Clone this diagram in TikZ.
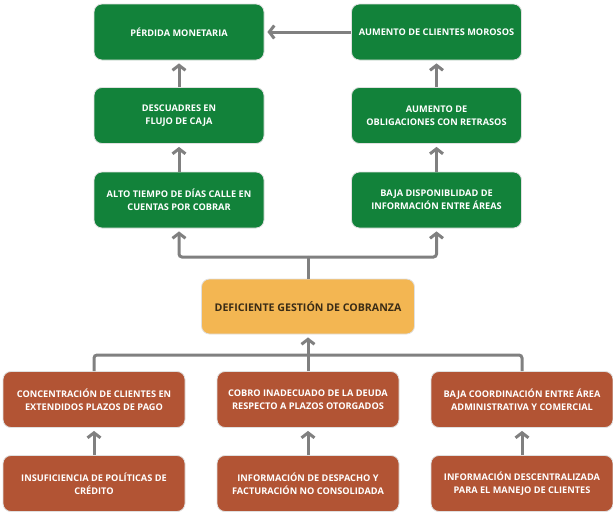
\documentclass[tikz,border=0pt]{standalone}
\usepackage{fontspec}
\setmainfont{Open Sans}
\usetikzlibrary{arrows.meta}
\definecolor{effgreen}{RGB}{18,130,58}
\definecolor{causebrown}{RGB}{178,84,52}
\definecolor{probyellow}{RGB}{243,182,82}
\definecolor{probtext}{RGB}{58,44,22}
\definecolor{linkgray}{RGB}{128,128,128}
\begin{document}
\begin{tikzpicture}[x=1pt,y=-1pt,
  box/.style={rounded corners=8pt, minimum height=56pt, align=center,
    draw=black!12, line width=0.8pt,
    font=\fontsize{9.2}{13.4}\selectfont\bfseries, inner sep=0pt},
  effect/.style={box, fill=effgreen, text=white, minimum width=170pt},
  cause/.style={box, fill=causebrown, text=white, minimum width=182pt},
  problem/.style={box, fill=probyellow, text=probtext, minimum width=213pt, minimum height=55pt,
    font=\fontsize{10.6}{13}\selectfont\bfseries},
  link/.style={draw=linkgray, line width=3pt, shorten >=3pt,
    -{Straight Barb[length=5pt,width=13pt,line width=3pt]}},
  plain/.style={draw=linkgray, line width=3pt, rounded corners=3pt}]
\useasboundingbox (0,0) rectangle (613,514);

% effects (green)
\node[effect] (e1) at (179,32) {PÉRDIDA MONETARIA};
\node[effect] (e2) at (436.5,32) {AUMENTO DE CLIENTES MOROSOS};
\node[effect] (e3) at (179,115.5) {DESCUADRES EN\\FLUJO DE CAJA};
\node[effect] (e4) at (436.5,115.5) {AUMENTO DE\\OBLIGACIONES CON RETRASOS};
\node[effect] (e5) at (179,200) {ALTO TIEMPO DE DÍAS CALLE EN\\CUENTAS POR COBRAR};
\node[effect] (e6) at (436.5,200) {BAJA DISPONIBLIDAD DE\\INFORMACIÓN ENTRE ÁREAS};

% central problem
\node[problem] (p) at (308,306.5) {DEFICIENTE GESTIÓN DE COBRANZA};

% causes (brown)
\node[cause] (c1) at (94,399.5) {CONCENTRACIÓN DE CLIENTES EN\\EXTENDIDOS PLAZOS DE PAGO};
\node[cause] (c2) at (308,399.5) {COBRO INADECUADO DE LA DEUDA\\RESPECTO A PLAZOS OTORGADOS};
\node[cause] (c3) at (522,399.5) {BAJA COORDINACIÓN ENTRE ÁREA\\ADMINISTRATIVA Y COMERCIAL};
\node[cause] (r1) at (94,483.5) {INSUFICIENCIA DE POLÍTICAS DE\\CRÉDITO};
\node[cause] (r2) at (308,483.5) {INFORMACIÓN DE DESPACHO Y\\FACTURACIÓN NO CONSOLIDADA};
\node[cause] (r3) at (522,483.5) {INFORMACIÓN DESCENTRALIZADA\\PARA EL MANEJO DE CLIENTES};

% effect chain
\draw[link] (e2.west) -- (e1.east);
\draw[link] (e3.north) -- (e1.south);
\draw[link] (e4.north) -- (e2.south);
\draw[link] (e5.north) -- (e3.south);
\draw[link] (e6.north) -- (e4.south);

% problem branches up to the two effects
\coordinate (jt) at (308,257);
\draw[plain] (p.north -| jt) -- (jt);
\draw[link, rounded corners=3pt] (jt) -| (e5.south);
\draw[link, rounded corners=3pt] (jt) -| (e6.south);

% causes join into the problem
\coordinate (jb) at (308,355);
\draw[plain] (c1.north) |- (jb) -| (c3.north);
\draw[link] (c2.north) -- (p.south -| c2.north);

% root causes
\draw[link] (r1.north) -- (c1.south);
\draw[link] (r2.north) -- (c2.south);
\draw[link] (r3.north) -- (c3.south);
\end{tikzpicture}
\end{document}
